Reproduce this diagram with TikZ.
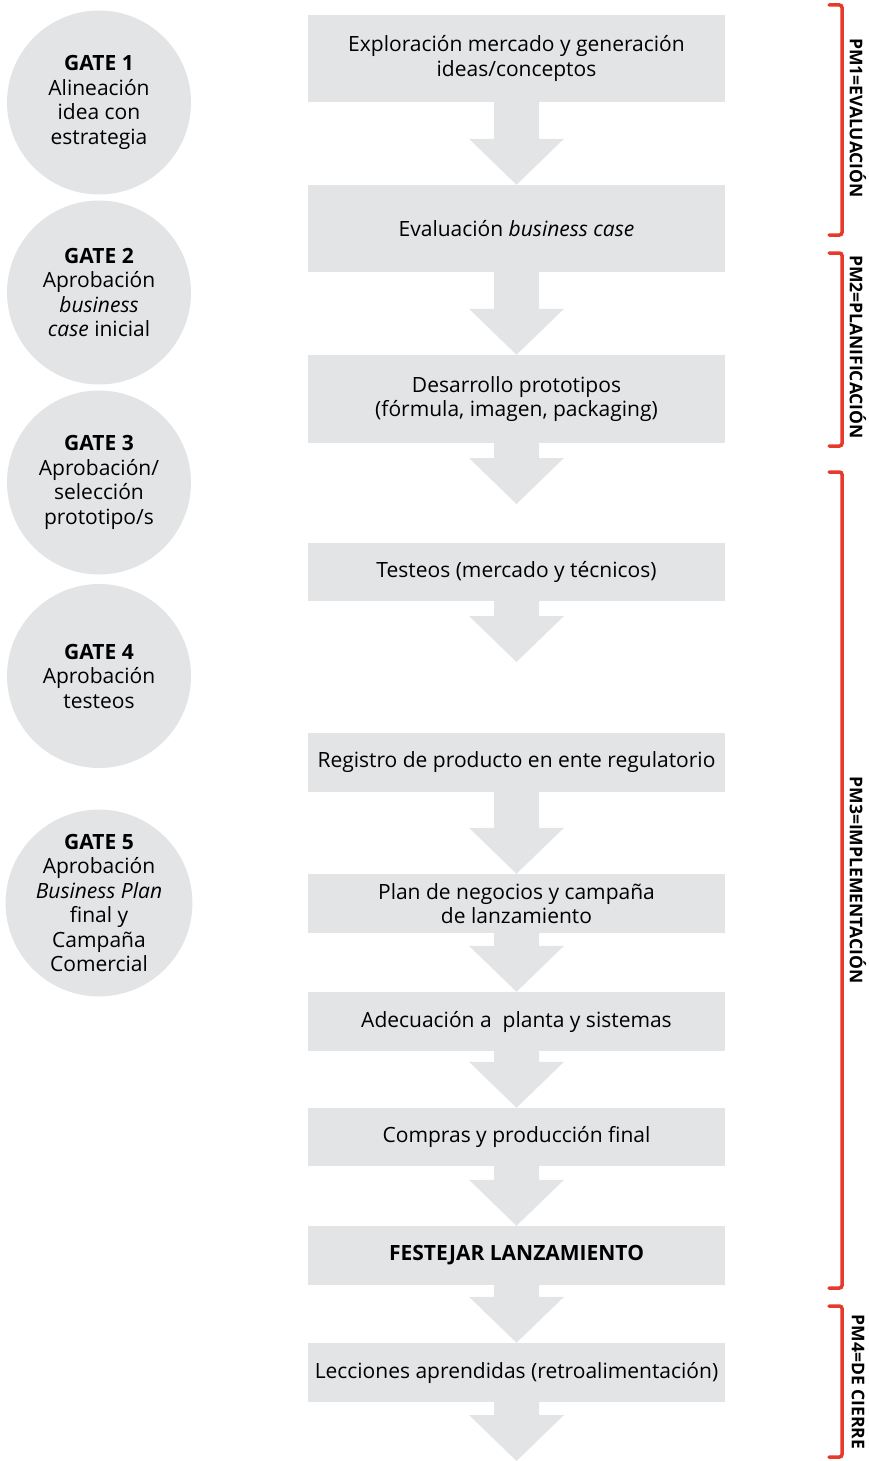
\documentclass[tikz,border=0pt]{standalone}
\usepackage{fontspec}
\setmainfont{Open Sans}
\usetikzlibrary{calc,positioning}

\definecolor{boxgray}{RGB}{227,228,230}
\definecolor{pmred}{RGB}{230,58,44}

% arrow from a box down to a point
\newcommand{\flecha}[2]{%
  \fill[boxgray] ($(#1)+(-22.5,0)$) -- ($(#2)+(-22.5,-46)$) -- ($(#2)+(-47.5,-46)$)
    -- (#2) -- ($(#2)+(47.5,-46)$) -- ($(#2)+(22.5,-46)$) -- ($(#1)+(22.5,0)$) -- cycle;}

\begin{document}
\begin{tikzpicture}[x=1pt,y=-1pt,
    every node/.style={font=\fontsize{21}{24.5}\selectfont},
    stepbox/.style={fill=boxgray,minimum width=417pt,inner sep=0pt,align=center},
    gate/.style={circle,fill=boxgray,minimum size=184pt,inner sep=0pt,align=center},
    pmbracket/.style={draw=pmred,line width=3.5pt,rounded corners=2.5pt,line cap=round},
    pmlabel/.style={rotate=-90,font=\fontsize{17.5}{20}\selectfont\bfseries}]
  \useasboundingbox (0,0) rectangle (869,1461);

  % gates
  \node[gate] (g1) at (99,102.5) {\textbf{GATE 1}\\Alineación\\idea con\\estrategia};
  \node[gate] (g2) at (99,292.5) {\textbf{GATE 2}\\Aprobación\\\textit{business}\\\textit{case} inicial};
  \node[gate] (g3) at (99,482.5) {\textbf{GATE 3}\\Aprobación/\\selección\\prototipo/s};
  \node[gate] (g4) at (99,676) {\textbf{GATE 4}\\Aprobación\\testeos};
  \node[gate] (g5) at (99,903) {\textbf{GATE 5}\\Aprobación\\\textit{Business Plan}\\final y\\Campaña\\Comercial};

  % process steps
  \node[stepbox, minimum height=87pt] (b1) at (516.5,58.5) {Exploración mercado y generación\\ideas/conceptos};
  \node[stepbox, minimum height=87pt] (b2) at (516.5,228.5) {Evaluación \textit{business case}};
  \node[stepbox, minimum height=88pt] (b3) at (516.5,399) {Desarrollo prototipos\\(fórmula, imagen, packaging)};
  \node[stepbox, minimum height=58pt] (b4) at (516.5,572) {Testeos (mercado y técnicos)};
  \node[stepbox, minimum height=59pt] (b5) at (516.5,762.5) {Registro de producto en ente regulatorio};
  \node[stepbox, minimum height=59pt] (b6) at (516.5,903.5) {Plan de negocios y campaña\\de lanzamiento};
  \node[stepbox, minimum height=59pt] (b7) at (516.5,1021.5) {Adecuación a \ planta y sistemas};
  \node[stepbox, minimum height=58pt] (b8) at (516.5,1137) {Compras y producción final};
  \node[stepbox, minimum height=59pt] (b9) at (516.5,1255.5) {\textbf{FESTEJAR LANZAMIENTO}};
  \node[stepbox, minimum height=59pt] (b10) at (516.5,1372.5) {Lecciones aprendidas (retroalimentación)};

  \coordinate (t3) at (516.5,504);
  \coordinate (t4) at (516.5,662);
  \coordinate (t10) at (516.5,1461);

  % arrows
  \flecha{b1.south}{b2.north}
  \flecha{b2.south}{b3.north}
  \flecha{b3.south}{t3}
  \flecha{b4.south}{t4}
  \flecha{b5.south}{b6.north}
  \flecha{b6.south}{b7.north}
  \flecha{b7.south}{b8.north}
  \flecha{b8.south}{b9.north}
  \flecha{b9.south}{b10.north}
  \flecha{b10.south}{t10}

  % phase brackets
  \draw[pmbracket] (829,5) -- (842,5) -- (842,235) -- (829,235);
  \draw[pmbracket] (829,253) -- (842,253) -- (842,446) -- (829,446);
  \draw[pmbracket] (829,472) -- (842,472) -- (842,1288) -- (829,1288);
  \draw[pmbracket] (829,1306) -- (842,1306) -- (842,1457) -- (829,1457);
  \node[pmlabel] (pm1) at (858,118) {PM1=EVALUACIÓN};
  \node[pmlabel] (pm2) at (858,347) {PM2=PLANIFICACIÓN};
  \node[pmlabel] (pm3) at (858,880) {PM3=IMPLEMENTACIÓN};
  \node[pmlabel] (pm4) at (858,1382) {PM4=DE CIERRE};
\end{tikzpicture}
\end{document}
